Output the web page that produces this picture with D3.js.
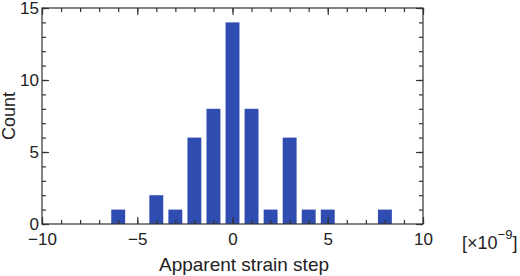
<html>
<script src='https://d3js.org/d3.v7.min.js'></script>
<style>
body { margin: 0; background: white; }
text { font-family: 'Liberation Sans', Arial, sans-serif; fill: #222; }
.frame { fill: none; stroke: #333; stroke-width: 1.2; }
.tick line { stroke: #333; stroke-width: 1.2; }
</style>
<body onload='init()'>
<svg width=520 height=276></svg>
<script>
// histogram bins (centres) and counts
const binCentres = [-6, -4, -3, -2, -1, 0, 1, 2, 3, 4, 5, 8];
const counts     = [ 1,  2,  1,  6,  8, 14, 8, 1, 6, 1, 1, 1];
const xMajor = [-10, -5, 0, 5, 10];
const yMajor = [0, 5, 10, 15];

function init() {
    const svg = d3.select("svg");
    const left = 42, top = 8, right = 423, bottom = 224;

    const x = d3.scaleLinear().domain([-10, 10]).range([left, right]);
    const y = d3.scaleLinear().domain([0, 15]).range([bottom, top]);
    const barW = 0.73;

    // bars
    svg.selectAll("rect.bar")
        .data(binCentres)
        .enter()
        .append("rect")
        .attr("class", "bar")
        .attr("x", (d) => x(d - barW / 2))
        .attr("width", x(barW) - x(0))
        .attr("y", (d, i) => y(counts[i]))
        .attr("height", (d, i) => y(0) - y(counts[i]))
        .attr("fill", "#2f4cb0");

    const minorX = d3.range(-10, 11);
    const minorY = d3.range(0, 16);

    // minor ticks, pointing in, on all four sides
    svg.append("g").attr("transform", `translate(0,${bottom})`)
        .call(d3.axisBottom(x).tickValues(minorX).tickSize(-4).tickFormat(""));
    svg.append("g").attr("transform", `translate(0,${top})`)
        .call(d3.axisTop(x).tickValues(minorX).tickSize(-4).tickFormat(""));
    svg.append("g").attr("transform", `translate(${left},0)`)
        .call(d3.axisLeft(y).tickValues(minorY).tickSize(-4).tickFormat(""));
    svg.append("g").attr("transform", `translate(${right},0)`)
        .call(d3.axisRight(y).tickValues(minorY).tickSize(-4).tickFormat(""));

    // major ticks with labels
    svg.append("g").attr("transform", `translate(0,${bottom})`)
        .call(d3.axisBottom(x).tickValues(xMajor).tickSize(-7).tickPadding(9))
        .attr("font-size", 17);
    svg.append("g").attr("transform", `translate(0,${top})`)
        .call(d3.axisTop(x).tickValues(xMajor).tickSize(-7).tickFormat(""));
    svg.append("g").attr("transform", `translate(${left},0)`)
        .call(d3.axisLeft(y).tickValues(yMajor).tickSize(-7).tickPadding(3))
        .attr("font-size", 17);
    svg.append("g").attr("transform", `translate(${right},0)`)
        .call(d3.axisRight(y).tickValues(yMajor).tickSize(-7).tickFormat(""));

    svg.selectAll(".domain").remove();
    svg.selectAll(".tick text").attr("fill", "#222").attr("font-family", "'Liberation Sans', Arial, sans-serif");

    // frame
    svg.append("rect").attr("class", "frame")
        .attr("x", left).attr("y", top)
        .attr("width", right - left).attr("height", bottom - top);

    // axis titles
    svg.append("text")
        .attr("transform", `translate(15,${(top + bottom) / 2}) rotate(-90)`)
        .attr("text-anchor", "middle")
        .attr("font-size", 18)
        .text("Count");

    svg.append("text")
        .attr("x", 244).attr("y", 271)
        .attr("text-anchor", "middle")
        .attr("font-size", 19)
        .text("Apparent strain step");

    const unit = svg.append("text")
        .attr("x", 462).attr("y", 249)
        .attr("font-size", 18);
    unit.append("tspan").text("[×10");
    unit.append("tspan").attr("dy", -10).attr("font-size", 13).text("−9");
    unit.append("tspan").attr("dy", 10).text("]");
}
</script>
</body>
</html>
